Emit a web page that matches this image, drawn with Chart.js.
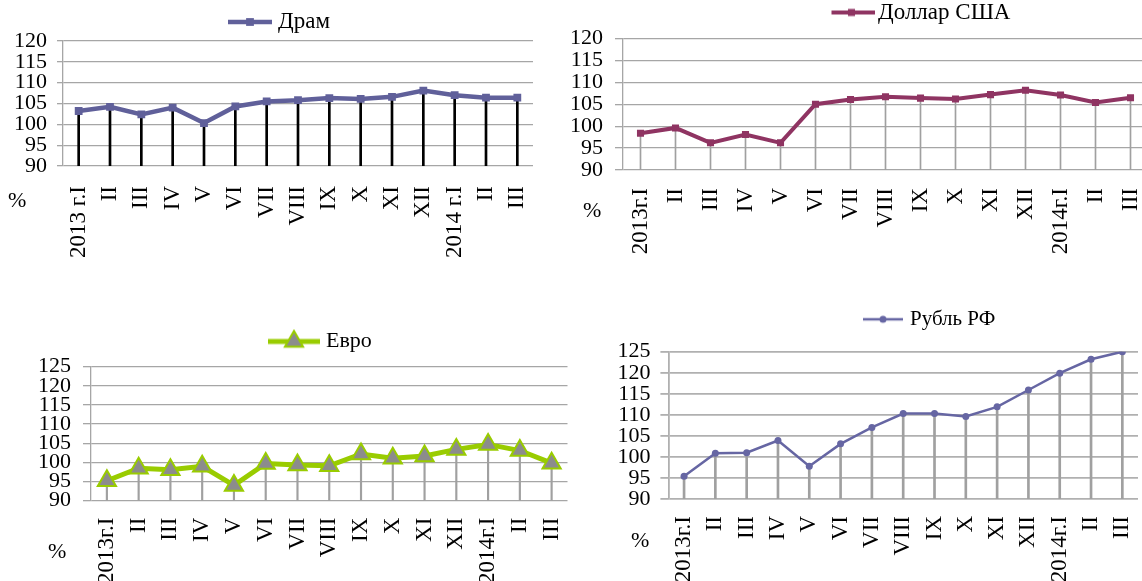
<!DOCTYPE html>
<html lang="ru">
<head>
<meta charset="utf-8">
<title>Индексы курсов валют</title>
<script src="https://cdn.jsdelivr.net/npm/chart.js@4.4.1/dist/chart.umd.min.js"></script>
<style>
html, body { margin: 0; padding: 0; background: #fff; }
body { position: relative; width: 1142px; height: 581px; overflow: hidden;
  font-family: 'Liberation Serif', 'Times New Roman', serif; }
canvas { position: absolute; }
.pct { position: absolute; font-size: 22px; line-height: 22px; color: #000; }
</style>
</head>
<body>
<canvas id="c_amd" width="560" height="270" style="left:0;top:0"></canvas>
<canvas id="c_usd" width="600" height="270" style="left:560px;top:0"></canvas>
<canvas id="c_eur" width="580" height="281" style="left:0;top:300px"></canvas>
<canvas id="c_rub" width="562" height="281" style="left:580px;top:300px"></canvas>
<span class="pct" style="left:8px;top:189px">%</span>
<span class="pct" style="left:583px;top:199px">%</span>
<span class="pct" style="left:48px;top:540px">%</span>
<span class="pct" style="left:631px;top:529px">%</span>
<script>
// months, 2013 I .. 2014 III
var labelsAmd = ['2013 г.I', 'II', 'III', 'IV', 'V', 'VI', 'VII', 'VIII', 'IX', 'X', 'XI', 'XII', '2014 г.I', 'II', 'III'];
var labelsFx = ['2013г.I', 'II', 'III', 'IV', 'V', 'VI', 'VII', 'VIII', 'IX', 'X', 'XI', 'XII', '2014г.I', 'II', 'III'];

var dram = [103.2, 104.2, 102.4, 104.0, 100.3, 104.3, 105.5, 105.8, 106.3, 106.1, 106.6, 108.1, 107.0, 106.4, 106.4];
var usd  = [98.4, 99.6, 96.2, 98.1, 96.2, 105.0, 106.1, 106.7, 106.4, 106.2, 107.2, 108.2, 107.1, 105.4, 106.5];
var euro = [95.2, 98.5, 98.1, 99.0, 94.0, 99.7, 99.3, 99.1, 102.2, 101.1, 101.7, 103.4, 104.7, 103.1, 99.8];
var rub  = [95.4, 100.9, 101.0, 103.9, 97.8, 103.1, 107.0, 110.3, 110.3, 109.6, 111.9, 115.9, 119.9, 123.2, 125.0];

var yMin = 90;
var yMaxA = 120, yMaxB = 125, yStep = 5;

Chart.defaults.font.family = "'Liberation Serif', 'Times New Roman', serif";
Chart.defaults.color = '#000';

// little picture for the legend: line with marker in the middle
function sample(w, h, color, lw, mk) {
	var c = document.createElement('canvas');
	c.width = w; c.height = h;
	var g = c.getContext('2d');
	g.strokeStyle = color; g.lineWidth = lw;
	g.beginPath(); g.moveTo(0, h / 2); g.lineTo(w, h / 2); g.stroke();
	g.fillStyle = mk.fill; g.strokeStyle = mk.border; g.lineWidth = mk.borderWidth;
	if (Chart.helpers && Chart.helpers.drawPoint) {
		Chart.helpers.drawPoint(g, {pointStyle: mk.style, radius: mk.radius, borderWidth: mk.borderWidth, rotation: 0}, w / 2, h / 2);
	} else {
		g.beginPath(); g.arc(w / 2, h / 2, mk.radius, 0, Math.PI * 2); g.fill();
	}
	return c;
}

// put legend where it is in the picture
var legendPlace = {
	id: 'legendPlace',
	afterLayout: function(chart, args, opts) {
		var lg = chart.legend;
		if (!lg) return;
		var w = lg.right - lg.left, h = lg.bottom - lg.top;
		lg.left = opts.x - opts.pad; lg.right = lg.left + w;
		lg.top = opts.y - opts.pad - opts.fs / 2; lg.bottom = lg.top + h;
	}
};

function makeChart(id, s) {
	var lgH = s.legend.fs + s.legend.pad + 10;
	return new Chart(document.getElementById(id), {
		data: {
			labels: s.labels,
			datasets: [{
				type: 'line',
				label: s.name,
				data: s.values,
				borderColor: s.color,
				borderWidth: s.lineWidth,
				backgroundColor: s.point.fill,
				pointStyle: s.point.style,
				pointRadius: s.point.radius,
				pointBackgroundColor: s.point.fill,
				pointBorderColor: s.point.border,
				pointBorderWidth: s.point.borderWidth,
				tension: 0,
				order: 0
			}, {
				type: 'bar',
				label: 'drop',
				data: s.values,
				backgroundColor: s.drop.color,
				barThickness: s.drop.width,
				order: 1
			}]
		},
		options: {
			responsive: false,
			animation: false,
			layout: {padding: {left: 0, right: s.box.right, top: s.box.bottomTop - lgH, bottom: 0}},
			scales: {
				x: {
					offset: true,
					grid: {display: false, drawTicks: false},
					border: {display: false},
					ticks: {autoSkip: false, minRotation: 90, maxRotation: 90, padding: s.box.xPad,
						font: {size: 23}, color: '#000'},
					afterFit: function(sc) {
						sc.height = s.box.xH;
						// rotated labels fit inside the category gap, no extra side room
						sc.paddingLeft = 0; sc.paddingRight = 0;
					}
				},
				y: {
					min: yMin, max: s.yMax,
					ticks: {stepSize: yStep, autoSkip: false, padding: s.box.tickPad,
						font: {size: 22, lineHeight: 1}, color: '#000'},
					grid: {color: s.grid.color, lineWidth: s.grid.width, tickLength: s.box.tickLen},
					border: {display: true, color: s.grid.color, width: s.grid.width},
					afterFit: function(sc) { sc.width = s.box.yW; }
				}
			},
			plugins: {
				tooltip: {enabled: false},
				legend: {
					display: true,
					position: 'top',
					align: 'start',
					labels: {
						usePointStyle: true,
						pointStyle: s.legend.img,
						pointStyleWidth: s.legend.bw,
						padding: s.legend.pad,
						color: '#000',
						font: {size: s.legend.fs},
						filter: function(item) { return item.datasetIndex === 0; }
					}
				},
				legendPlace: {x: s.legend.x, y: s.legend.y, pad: s.legend.pad, fs: s.legend.fs}
			}
		},
		plugins: [legendPlace]
	});
}

var mkAmd = {style: 'rect', radius: 5.5, fill: '#60609a', border: '#60609a', borderWidth: 0};
makeChart('c_amd', {
	name: 'Драм', labels: labelsAmd, values: dram, yMax: yMaxA,
	color: '#60609a', lineWidth: 4.5, point: mkAmd,
	drop: {color: '#000', width: 2},
	grid: {color: '#a6a6a6', width: 1.3},
	box: {yW: 63, right: 27, bottomTop: 41, xH: 104, tickLen: 6, tickPad: 10, xPad: 20},
	legend: {img: sample(44, 12, '#60609a', 4.5, mkAmd), bw: 33, x: 233.5, y: 22, fs: 23, pad: 6}
});

var mkUsd = {style: 'rect', radius: 5, fill: '#8f3462', border: '#8f3462', borderWidth: 0};
makeChart('c_usd', {
	name: 'Доллар США', labels: labelsFx, values: usd, yMax: yMaxA,
	color: '#8f3462', lineWidth: 4, point: mkUsd,
	drop: {color: '#a0a0a0', width: 1},
	grid: {color: '#a6a6a6', width: 1.3},
	box: {yW: 63, right: 12, bottomTop: 38.5, xH: 100, tickLen: 8, tickPad: 12, xPad: 18},
	legend: {img: sample(47, 12, '#8f3462', 4, mkUsd), bw: 30, x: 276.5, y: 12.5, fs: 23, pad: 5}
});

var mkEur = {style: 'triangle', radius: 10.5, fill: '#8c8c8c', border: '#99cc00', borderWidth: 2};
makeChart('c_eur', {
	name: 'Евро', labels: labelsFx, values: euro, yMax: yMaxB,
	color: '#99cc00', lineWidth: 5, point: mkEur,
	drop: {color: '#a0a0a0', width: 1.5},
	grid: {color: '#a6a6a6', width: 1.3},
	box: {yW: 91, right: 2, bottomTop: 66.7, xH: 80.3, tickLen: 8, tickPad: 12, xPad: 17},
	legend: {img: sample(52, 26, '#99cc00', 5, mkEur), bw: 42, x: 273, y: 41.5, fs: 22, pad: 6}
});

var mkRub = {style: 'circle', radius: 3.5, fill: '#6666a3', border: '#6666a3', borderWidth: 0};
makeChart('c_rub', {
	name: 'Рубль РФ', labels: labelsFx, values: rub, yMax: yMaxB,
	color: '#6666a3', lineWidth: 2.5, point: mkRub,
	drop: {color: '#a0a0a0', width: 2},
	grid: {color: '#b0b0b0', width: 1.8},
	box: {yW: 88.4, right: 1, bottomTop: 51.7, xH: 82, tickLen: 8, tickPad: 10, xPad: 17},
	legend: {img: sample(40, 12, '#6666a3', 2.5, mkRub), bw: 33, x: 286.5, y: 19.3, fs: 21, pad: 6}
});
</script>
</body>
</html>
